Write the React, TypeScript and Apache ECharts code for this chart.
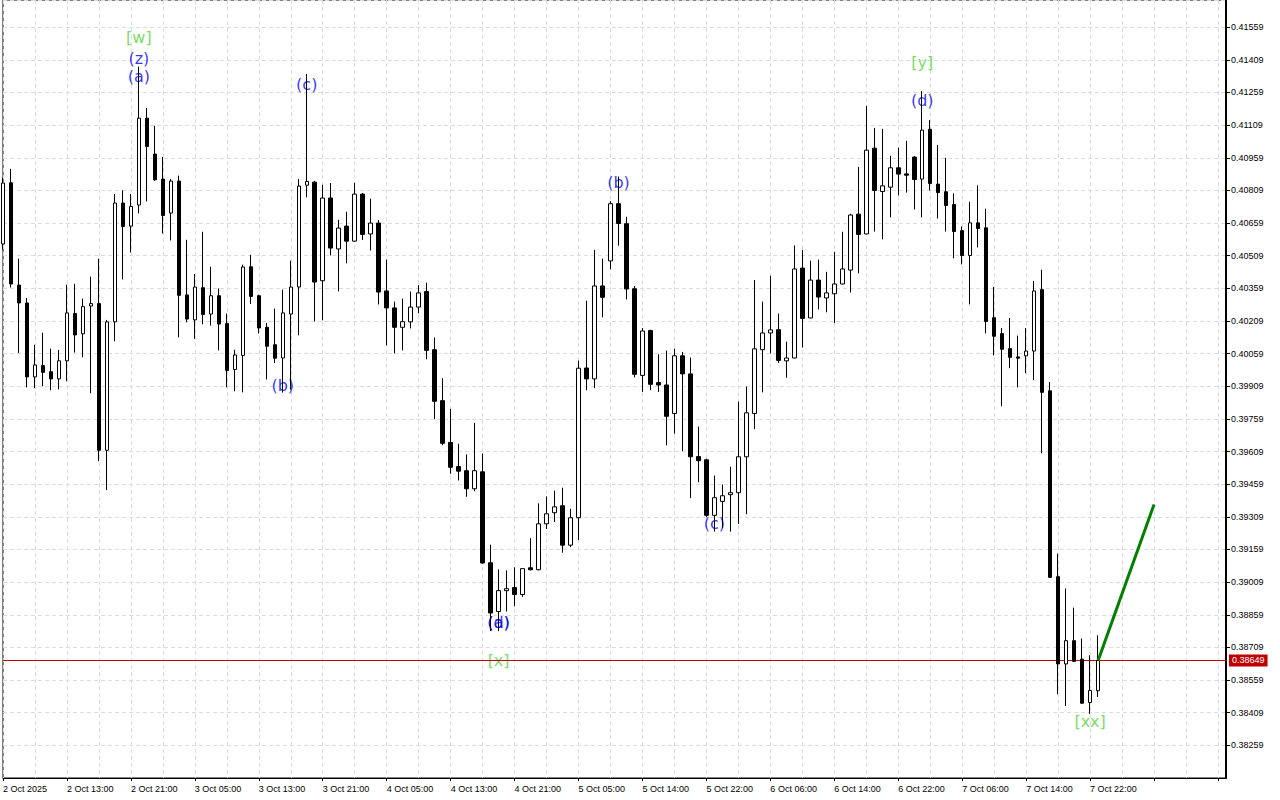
import React, { useEffect, useRef } from 'react';
import * as echarts from 'echarts';

const tickLabels = [
  '2 Oct 2025', '2 Oct 13:00', '2 Oct 21:00', '3 Oct 05:00', '3 Oct 13:00', '3 Oct 21:00',
  '4 Oct 05:00', '4 Oct 13:00', '4 Oct 21:00', '5 Oct 05:00', '5 Oct 14:00', '5 Oct 22:00',
  '6 Oct 06:00', '6 Oct 14:00', '6 Oct 22:00', '7 Oct 06:00', '7 Oct 14:00', '7 Oct 22:00',
];

const slotCount = 154;

// [open, close, low, high]
const candles: number[][] = [
  [0.40563, 0.40843, 0.40536, 0.40867],
  [0.40844, 0.40379, 0.40363, 0.40908],
  [0.40374, 0.40292, 0.40062, 0.40495],
  [0.40292, 0.39952, 0.39904, 0.40315],
  [0.39952, 0.40007, 0.39900, 0.40100],
  [0.40004, 0.39973, 0.39909, 0.40155],
  [0.39976, 0.39943, 0.39891, 0.40082],
  [0.39943, 0.40026, 0.39895, 0.40076],
  [0.40026, 0.40246, 0.39932, 0.40376],
  [0.40243, 0.40145, 0.40064, 0.40380],
  [0.40150, 0.40275, 0.40042, 0.40312],
  [0.40278, 0.40289, 0.39877, 0.40413],
  [0.40289, 0.39615, 0.39565, 0.40495],
  [0.39615, 0.40205, 0.39432, 0.40214],
  [0.40205, 0.40751, 0.40116, 0.40793],
  [0.40751, 0.40643, 0.40400, 0.40810],
  [0.40645, 0.40735, 0.40524, 0.40793],
  [0.40742, 0.41141, 0.40703, 0.41378],
  [0.41141, 0.41011, 0.40758, 0.41188],
  [0.40976, 0.40858, 0.40853, 0.41106],
  [0.40861, 0.40694, 0.40611, 0.40963],
  [0.40705, 0.40852, 0.40579, 0.40862],
  [0.40852, 0.40327, 0.40134, 0.40877],
  [0.40329, 0.40218, 0.40203, 0.40582],
  [0.40214, 0.40365, 0.40127, 0.40425],
  [0.40362, 0.40239, 0.40194, 0.40619],
  [0.40241, 0.40325, 0.40188, 0.40458],
  [0.40325, 0.40195, 0.40074, 0.40359],
  [0.40197, 0.39982, 0.39904, 0.40243],
  [0.39986, 0.40053, 0.39886, 0.40077],
  [0.40051, 0.40457, 0.39881, 0.40468],
  [0.40458, 0.40322, 0.40287, 0.40513],
  [0.40325, 0.40177, 0.40152, 0.40330],
  [0.40180, 0.40093, 0.39940, 0.40200],
  [0.40100, 0.40038, 0.40016, 0.40266],
  [0.40039, 0.40246, 0.39880, 0.40353],
  [0.40241, 0.40365, 0.39894, 0.40486],
  [0.40365, 0.40829, 0.40143, 0.40862],
  [0.40833, 0.40850, 0.40777, 0.41344],
  [0.40847, 0.40388, 0.40207, 0.40853],
  [0.40394, 0.40774, 0.40212, 0.40835],
  [0.40774, 0.40544, 0.40510, 0.40843],
  [0.40540, 0.40636, 0.40345, 0.40674],
  [0.40645, 0.40576, 0.40474, 0.40711],
  [0.40576, 0.40792, 0.40573, 0.40844],
  [0.40792, 0.40607, 0.40581, 0.40797],
  [0.40609, 0.40659, 0.40533, 0.40771],
  [0.40659, 0.40342, 0.40285, 0.40673],
  [0.40347, 0.40269, 0.40097, 0.40491],
  [0.40269, 0.40180, 0.40060, 0.40298],
  [0.40180, 0.40206, 0.40074, 0.40312],
  [0.40205, 0.40273, 0.40175, 0.40344],
  [0.40273, 0.40338, 0.40244, 0.40374],
  [0.40344, 0.40074, 0.40033, 0.40385],
  [0.40077, 0.39840, 0.39758, 0.40133],
  [0.39843, 0.39647, 0.39638, 0.39946],
  [0.39651, 0.39537, 0.39507, 0.39805],
  [0.39540, 0.39519, 0.39476, 0.39645],
  [0.39521, 0.39438, 0.39401, 0.39596],
  [0.39438, 0.39521, 0.39427, 0.39741],
  [0.39516, 0.39097, 0.39093, 0.39600],
  [0.39098, 0.38867, 0.38784, 0.39181],
  [0.38874, 0.38970, 0.38784, 0.39068],
  [0.38970, 0.38979, 0.38874, 0.39063],
  [0.38984, 0.38952, 0.38898, 0.39077],
  [0.38952, 0.39071, 0.38941, 0.39072],
  [0.39075, 0.39066, 0.39063, 0.39211],
  [0.39066, 0.39277, 0.39063, 0.39371],
  [0.39277, 0.39323, 0.39253, 0.39403],
  [0.39328, 0.39355, 0.39285, 0.39430],
  [0.39360, 0.39179, 0.39144, 0.39443],
  [0.39179, 0.39305, 0.39170, 0.39346],
  [0.39305, 0.39992, 0.39202, 0.40027],
  [0.39993, 0.39943, 0.39891, 0.40302],
  [0.39943, 0.40370, 0.39900, 0.40536],
  [0.40370, 0.40318, 0.40226, 0.40495],
  [0.40485, 0.40748, 0.40446, 0.40760],
  [0.40748, 0.40657, 0.40555, 0.40873],
  [0.40656, 0.40356, 0.40308, 0.40688],
  [0.40357, 0.39964, 0.39950, 0.40370],
  [0.39959, 0.40163, 0.39883, 0.40177],
  [0.40165, 0.39918, 0.39891, 0.40169],
  [0.39926, 0.39915, 0.39883, 0.40056],
  [0.39915, 0.39771, 0.39638, 0.40073],
  [0.39784, 0.40049, 0.39691, 0.40082],
  [0.40049, 0.39966, 0.39611, 0.40067],
  [0.39966, 0.39585, 0.39395, 0.40041],
  [0.39586, 0.39567, 0.39468, 0.39724],
  [0.39571, 0.39316, 0.39308, 0.39576],
  [0.39316, 0.39397, 0.39241, 0.39499],
  [0.39380, 0.39406, 0.39259, 0.39458],
  [0.39411, 0.39420, 0.39241, 0.39539],
  [0.39420, 0.39585, 0.39277, 0.39839],
  [0.39585, 0.39787, 0.39321, 0.39908],
  [0.39784, 0.40081, 0.39712, 0.40397],
  [0.40077, 0.40154, 0.39881, 0.40298],
  [0.40154, 0.40168, 0.40060, 0.40417],
  [0.40169, 0.40028, 0.40016, 0.40243],
  [0.40026, 0.40039, 0.39948, 0.40114],
  [0.40039, 0.40448, 0.40038, 0.40556],
  [0.40452, 0.40221, 0.40087, 0.40536],
  [0.40223, 0.40397, 0.40222, 0.40486],
  [0.40397, 0.40319, 0.40262, 0.40491],
  [0.40315, 0.40338, 0.40249, 0.40435],
  [0.40334, 0.40379, 0.40200, 0.40527],
  [0.40379, 0.40448, 0.40378, 0.40619],
  [0.40443, 0.40696, 0.40340, 0.40702],
  [0.40700, 0.40607, 0.40428, 0.40917],
  [0.40609, 0.40994, 0.40608, 0.41197],
  [0.41003, 0.40809, 0.40620, 0.41096],
  [0.40804, 0.40830, 0.40584, 0.41092],
  [0.40824, 0.40913, 0.40685, 0.40968],
  [0.40913, 0.40884, 0.40786, 0.41005],
  [0.40885, 0.40879, 0.40799, 0.41037],
  [0.40962, 0.40859, 0.40721, 0.40967],
  [0.40861, 0.41086, 0.40685, 0.41265],
  [0.41090, 0.40841, 0.40809, 0.41132],
  [0.40838, 0.40799, 0.40680, 0.41018],
  [0.40803, 0.40740, 0.40620, 0.40959],
  [0.40744, 0.40620, 0.40497, 0.40795],
  [0.40624, 0.40510, 0.40469, 0.40643],
  [0.40510, 0.40660, 0.40285, 0.40757],
  [0.40660, 0.40634, 0.40547, 0.40832],
  [0.40637, 0.40207, 0.40152, 0.40725],
  [0.40224, 0.40139, 0.40051, 0.40366],
  [0.40151, 0.40079, 0.39817, 0.40177],
  [0.40082, 0.40042, 0.39992, 0.40223],
  [0.40044, 0.40038, 0.39904, 0.40142],
  [0.40049, 0.40071, 0.39969, 0.40177],
  [0.40071, 0.40347, 0.39937, 0.40393],
  [0.40353, 0.39881, 0.39601, 0.40445],
  [0.39888, 0.39031, 0.39028, 0.39929],
  [0.39034, 0.38633, 0.38494, 0.39140],
  [0.38633, 0.38740, 0.38440, 0.38980],
  [0.38740, 0.38645, 0.38642, 0.38892],
  [0.38655, 0.38453, 0.38449, 0.38750],
  [0.38456, 0.38511, 0.38404, 0.38673],
  [0.38510, 0.38649, 0.38481, 0.38765],
];

const currentPrice = 0.38649;

// projected move: [slot index, price]
const projection: number[][] = [
  [137, 0.38649],
  [144, 0.39366],
];

const blueLabels = [
  { name: '(z)', idx: 17, price: 0.41413 },
  { name: '(a)', idx: 17, price: 0.41331 },
  { name: '(b)', idx: 35, price: 0.39912 },
  { name: '(c)', idx: 38, price: 0.41298 },
  { name: '(a)', idx: 62, price: 0.38824 },
  { name: '(d)', idx: 62, price: 0.38824 },
  { name: '(b)', idx: 77, price: 0.40844 },
  { name: '(c)', idx: 89, price: 0.39279 },
  { name: '(d)', idx: 115, price: 0.41220 },
];

const greenLabels = [
  { name: '[w]', idx: 17, price: 0.41510 },
  { name: '[x]', idx: 62, price: 0.38650 },
  { name: '[y]', idx: 115, price: 0.41399 },
  { name: '[xx]', idx: 136, price: 0.38370 },
];

const yMin = 0.38109;
const yMax = 0.41684;
const yStep = 0.0015;

export default function App() {
  const ref = useRef<HTMLDivElement>(null);

  useEffect(() => {
    if (!ref.current) return;
    const chart = echarts.init(ref.current, undefined, { renderer: 'svg' });
    const categories = Array.from({ length: slotCount }, (_, i) => String(i));
    const gridColor = '#dcdcdc';
    const labelSeries = (items: { name: string; idx: number; price: number }[], color: string) => ({
      type: 'scatter',
      silent: true,
      z: 1,
      symbolSize: 1,
      itemStyle: { color: 'rgba(0,0,0,0)' },
      data: items.map((d) => ({ name: d.name, value: [d.idx, d.price] })),
      label: {
        show: true,
        position: 'inside',
        formatter: '{b}',
        color,
        fontSize: 16,
        fontFamily: 'DejaVu Sans',
      },
    });

    chart.setOption({
      animation: false,
      backgroundColor: '#ffffff',
      grid: {
        left: 2,
        right: 54,
        top: 0,
        bottom: 22,
        show: true,
        borderColor: '#000',
        borderWidth: 1,
        backgroundColor: '#fff',
      },
      xAxis: {
        type: 'category',
        data: categories,
        boundaryGap: false,
        axisLine: { show: true, lineStyle: { color: '#000', width: 1 } },
        axisTick: { show: true, interval: 7, length: 3, lineStyle: { color: '#000' } },
        axisLabel: {
          interval: 7,
          align: 'left',
          margin: 6,
          color: '#000',
          fontSize: 9,
          fontFamily: 'Liberation Sans',
          formatter: (_v: string, i: number) => (i % 8 === 0 && tickLabels[i / 8]) ? tickLabels[i / 8] : '',
        },
        splitLine: { show: true, interval: 3, lineStyle: { color: gridColor, type: [4, 3], width: 1 } },
      },
      yAxis: {
        type: 'value',
        position: 'right',
        min: yMin,
        max: yMax,
        interval: yStep,
        axisLine: { show: true, lineStyle: { color: '#000', width: 2 } },
        axisTick: { show: true, length: 4, lineStyle: { color: '#000' } },
        axisLabel: {
          showMinLabel: false,
          showMaxLabel: false,
          margin: 5,
          color: '#000',
          fontSize: 9,
          fontFamily: 'Liberation Sans',
          formatter: (v: number) => v.toFixed(5),
        },
        splitLine: { show: true, lineStyle: { color: gridColor, type: [4, 3], width: 1 } },
      },
      series: [
        labelSeries(greenLabels, '#55d43a'),
        labelSeries(blueLabels, '#0000ff'),
        {
          type: 'candlestick',
          z: 3,
          barWidth: 4,
          data: candles,
          itemStyle: {
            color: '#ffffff',
            color0: '#000000',
            borderColor: '#000000',
            borderColor0: '#000000',
            borderWidth: 1,
          },
        },
        {
          type: 'line',
          z: 4,
          data: projection,
          symbol: 'none',
          lineStyle: { color: '#008000', width: 3 },
          markLine: {
            silent: true,
            precision: 5,
            symbol: ['none', 'none'],
            z: 2,
            data: [{ yAxis: currentPrice }],
            lineStyle: { color: '#c00000', width: 1, type: 'solid' },
            label: {
              show: true,
              position: 'end',
              distance: 3,
              formatter: () => currentPrice.toFixed(5),
              color: '#ffffff',
              backgroundColor: '#c00000',
              padding: [2, 3, 1, 3],
              fontSize: 9,
              fontFamily: 'Liberation Sans',
            },
          },
        },
      ],
    });
    return () => chart.dispose();
  }, []);

  return (
    <div
      ref={ref}
      style={{ position: 'absolute', left: 0, top: 0, width: 1280, height: 800, background: '#fff' }}
    />
  );
}
